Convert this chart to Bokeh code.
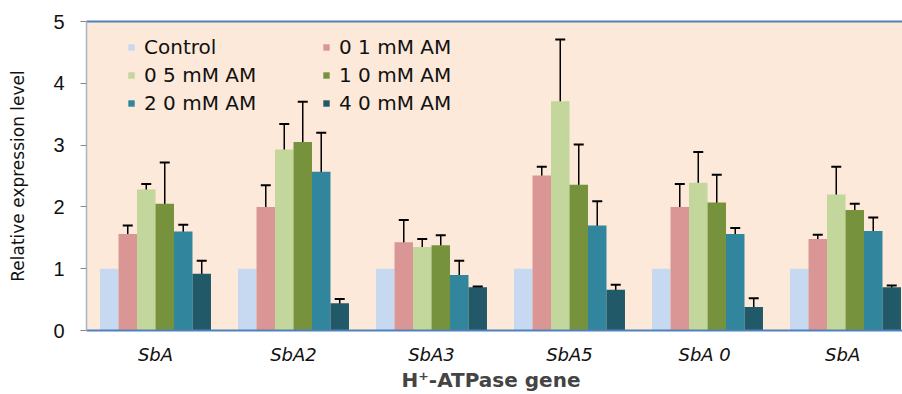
from bokeh.plotting import figure
from bokeh.models import (ColumnDataSource, Whisker, TeeHead, FixedTicker, Legend,
                          LegendItem, LinearAxis, Range1d)
from bokeh.embed import file_html
from bokeh.resources import INLINE

genes = ["SbA", "SbA2", "SbA3", "SbA5", "SbA  0", "SbA "]
series = ["Control", "0 1 mM AM", "0 5 mM AM", "1 0 mM AM", "2 0 mM AM", "4 0 mM AM"]
colors = ["#c6d9f0", "#da9694", "#c3d69b", "#76923c", "#31859c", "#215968"]

control = [1.0, 1.0, 1.0, 1.0, 1.0, 1.0]
am01 = [1.56, 2.00, 1.43, 2.51, 2.00, 1.48]
am05 = [2.28, 2.93, 1.35, 3.71, 2.39, 2.20]
am10 = [2.05, 3.05, 1.38, 2.36, 2.07, 1.95]
am20 = [1.60, 2.57, 0.90, 1.70, 1.56, 1.61]
am40 = [0.92, 0.44, 0.70, 0.66, 0.38, 0.70]

err_control = [0, 0, 0, 0, 0, 0]
err01 = [0.14, 0.35, 0.36, 0.14, 0.37, 0.07]
err05 = [0.09, 0.41, 0.13, 1.00, 0.50, 0.45]
err10 = [0.67, 0.65, 0.16, 0.65, 0.45, 0.10]
err20 = [0.11, 0.63, 0.23, 0.39, 0.10, 0.22]
err40 = [0.21, 0.07, 0.01, 0.08, 0.14, 0.03]

values = [control, am01, am05, am10, am20, am40]
errors = [err_control, err01, err05, err10, err20, err40]

bar_w = 0.134
centers = [i + 0.5 for i in range(len(genes))]

p = figure(width=902, height=394, output_backend="svg", toolbar_location=None,
           x_range=Range1d(0, 5.913), y_range=Range1d(0, 5),
           min_border_left=86, min_border_right=0, min_border_top=21,
           min_border_bottom=64)
p.background_fill_color = "#fde9d9"
p.border_fill_color = "white"
p.outline_line_color = None
p.xgrid.visible = False
p.ygrid.visible = False

renderers = []
for j, (vals, errs, col) in enumerate(zip(values, errors, colors)):
    xs = [c + (j - 2.5) * bar_w for c in centers]
    src = ColumnDataSource(dict(x=xs, top=vals,
                                upper=[v + e for v, e in zip(vals, errs)],
                                lower=[v - e for v, e in zip(vals, errs)]))
    r = p.vbar(x="x", top="top", width=bar_w, bottom=0, source=src,
               fill_color=col, line_color=None)
    renderers.append(r)
    if j > 0:
        w = Whisker(source=src, base="x", upper="upper", lower="lower",
                    line_color="black", line_width=1.5,
                    upper_head=TeeHead(size=10, line_color="black", line_width=2),
                    lower_head=TeeHead(size=10, line_color="black", line_width=2))
        p.add_layout(w)

# axes
p.xaxis.ticker = FixedTicker(ticks=centers)
p.xaxis.major_label_overrides = {c: g for c, g in zip(centers, genes)}
p.xaxis.major_tick_line_color = None
p.xaxis.minor_tick_line_color = None
p.xaxis.axis_line_color = "#4f81bd"
p.xaxis.axis_line_width = 2
p.xaxis.major_label_text_font = "DejaVu Sans"
p.xaxis.major_label_text_font_style = "italic"
p.xaxis.major_label_text_font_size = "18px"
p.xaxis.major_label_text_color = "#111111"
p.xaxis.major_label_standoff = 7
p.xaxis.axis_label = "H\u207a-ATPase  gene"
p.xaxis.axis_label_text_font = "DejaVu Sans"
p.xaxis.axis_label_text_font_style = "bold"
p.xaxis.axis_label_text_font_size = "20px"
p.xaxis.axis_label_standoff = 0

p.yaxis.ticker = FixedTicker(ticks=[0, 1, 2, 3, 4, 5])
p.yaxis.minor_tick_line_color = None
p.yaxis.major_tick_in = 0
p.yaxis.major_tick_out = 6
p.yaxis.major_tick_line_color = "#888888"
p.yaxis.axis_line_color = "#a6b5c8"
p.yaxis.axis_line_width = 1.5
p.yaxis.major_label_text_font = "Liberation Sans"
p.yaxis.major_label_text_font_size = "20px"
p.yaxis.major_label_text_color = "#111111"
p.yaxis.major_label_standoff = 16
p.yaxis.axis_label = "Relative expression level"
p.yaxis.axis_label_text_font = "DejaVu Sans"
p.yaxis.axis_label_text_font_style = "normal"
p.yaxis.axis_label_text_font_size = "17px"
p.yaxis.axis_label_text_color = "#111111"
p.yaxis.axis_label_standoff = 22

top_axis = LinearAxis(ticker=FixedTicker(ticks=[]), axis_line_color="#4f81bd",
                      axis_line_width=2, major_tick_line_color=None,
                      minor_tick_line_color=None, major_label_text_font_size="0px")
p.add_layout(top_axis, "above")

def make_legend(idx, loc):
    items = [LegendItem(label=series[i], renderers=[renderers[i]]) for i in idx]
    lg = Legend(items=items, location=loc, orientation="vertical",
                glyph_width=8, glyph_height=8, label_standoff=9,
                label_text_font="DejaVu Sans", label_text_font_size="20px",
                label_text_color="#111111",
                label_height=20, spacing=4, padding=0, margin=0,
                border_line_color=None, background_fill_alpha=0)
    return lg

p.add_layout(make_legend([0, 2, 4], (41, 215)))
p.add_layout(make_legend([1, 3, 5], (236, 215)))

open("out.html", "w").write(file_html(p, INLINE))
